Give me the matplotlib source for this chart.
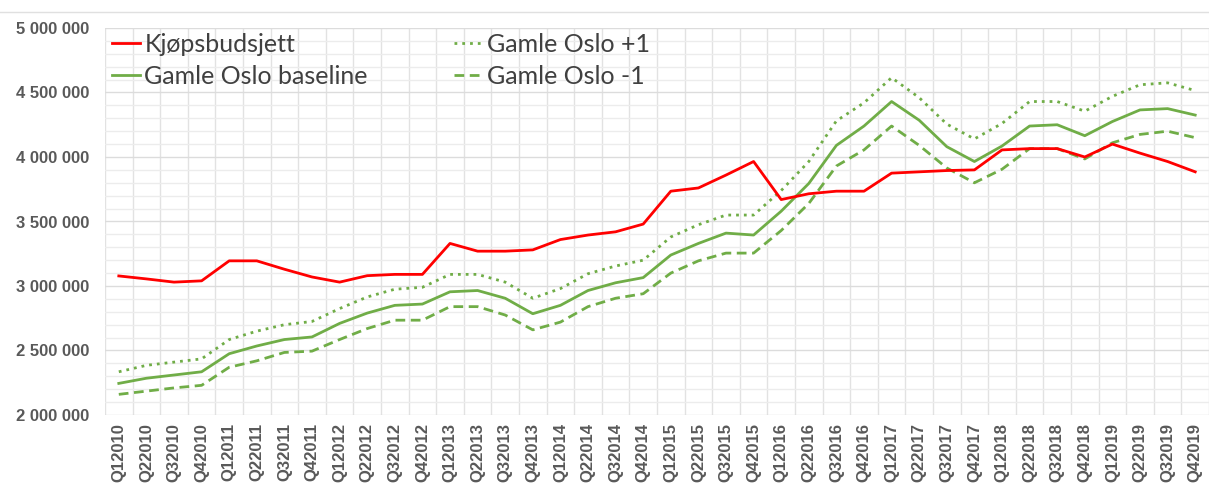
import numpy as np
import matplotlib.pyplot as plt
from matplotlib.lines import Line2D
from matplotlib.ticker import FuncFormatter, MultipleLocator

quarters = ["Q%d%d" % (q, y) for y in range(2010, 2020) for q in range(1, 5)]

kjopsbudsjett = [3078000, 3055000, 3030000, 3040000, 3195000, 3195000, 3130000, 3070000,
                 3030000, 3080000, 3090000, 3090000, 3330000, 3270000, 3270000, 3280000,
                 3360000, 3395000, 3420000, 3480000, 3735000, 3760000, 3860000, 3965000,
                 3670000, 3715000, 3735000, 3735000, 3875000, 3885000, 3895000, 3900000,
                 4055000, 4065000, 4065000, 4000000, 4100000, 4030000, 3965000, 3885000]

baseline = [2245000, 2285000, 2310000, 2335000, 2475000, 2535000, 2585000, 2605000,
            2710000, 2790000, 2850000, 2860000, 2955000, 2965000, 2905000, 2785000,
            2850000, 2965000, 3025000, 3065000, 3240000, 3330000, 3410000, 3395000,
            3580000, 3795000, 4090000, 4240000, 4430000, 4285000, 4080000, 3965000,
            4085000, 4240000, 4250000, 4165000, 4275000, 4365000, 4375000, 4325000]

pluss1 = [2335000, 2385000, 2410000, 2435000, 2585000, 2650000, 2700000, 2725000,
          2825000, 2915000, 2975000, 2990000, 3090000, 3090000, 3030000, 2905000,
          2980000, 3095000, 3155000, 3200000, 3380000, 3475000, 3550000, 3550000,
          3740000, 3965000, 4280000, 4420000, 4615000, 4460000, 4255000, 4140000,
          4260000, 4430000, 4430000, 4355000, 4470000, 4560000, 4575000, 4515000]

minus1 = [2160000, 2185000, 2210000, 2230000, 2370000, 2420000, 2485000, 2495000,
          2585000, 2670000, 2735000, 2735000, 2840000, 2840000, 2775000, 2660000,
          2720000, 2840000, 2905000, 2940000, 3100000, 3195000, 3255000, 3255000,
          3430000, 3640000, 3930000, 4055000, 4240000, 4090000, 3915000, 3800000,
          3905000, 4065000, 4065000, 3985000, 4110000, 4175000, 4200000, 4150000]

red = "#ff0000"
green = "#70ad47"
txt = "#595959"

fig = plt.figure(figsize=(12.09, 4.83), dpi=100)
ax = fig.add_axes([105 / 1209, 1 - 415 / 483, 1104 / 1209, 387 / 483])

x = np.arange(len(quarters))
l1, = ax.plot(x, kjopsbudsjett, color=red, lw=2.0, label="Kjøpsbudsjett", zorder=5)
l2, = ax.plot(x, baseline, color=green, lw=2.0, label="Gamle Oslo baseline", zorder=4)
l3, = ax.plot(x, pluss1, color=green, lw=2.0, ls=(0, (1, 1.8)), label="Gamle Oslo +1", zorder=3)
l4, = ax.plot(x, minus1, color=green, lw=2.0, ls=(0, (3.5, 2)), label="Gamle Oslo -1", zorder=3)

ax.set_xlim(-0.5, len(quarters) - 0.5)
ax.set_ylim(2000000, 5000000)
ax.yaxis.set_major_locator(MultipleLocator(500000))
ax.yaxis.set_minor_locator(MultipleLocator(100000))
ax.yaxis.set_major_formatter(FuncFormatter(lambda v, p: "{:,.0f}".format(v).replace(",", " ")))
ax.set_xticks(x)
ax.set_xticks(np.arange(-0.5, len(quarters)), minor=True)
ax.set_xticklabels(quarters, rotation=90)

ax.grid(which="major", axis="y", color="#dcdcdc", lw=1.0)
ax.grid(which="minor", axis="y", color="#ececec", lw=1.0)
ax.grid(which="minor", axis="x", color="#e2e2e2", lw=1.0)
ax.set_axisbelow(True)
for s in ax.spines.values():
    s.set_visible(False)
ax.tick_params(which="both", length=0)
ax.tick_params(axis="y", pad=11)
ax.tick_params(axis="x", pad=6)
for lab in ax.get_xticklabels() + ax.get_yticklabels():
    lab.set_fontfamily("Liberation Sans")
    lab.set_fontweight("bold")
    lab.set_fontsize(12)
    lab.set_color(txt)

leg = fig.legend(handles=[l1, l2, l3, l4], ncol=2, loc="upper left",
                 bbox_to_anchor=(112 / 1209, 1 - 33 / 483), frameon=False,
                 prop={"family": "Lato", "size": 18}, labelcolor="#404040",
                 handlelength=1.1, handletextpad=0.2, columnspacing=3.45,
                 labelspacing=0.36, borderpad=0.0, borderaxespad=0.0)

fig.add_artist(Line2D([0, 1], [1 - 12 / 483, 1 - 12 / 483], color="#e0e0e0", lw=1.0))

fig.savefig("out.png", dpi=100)
